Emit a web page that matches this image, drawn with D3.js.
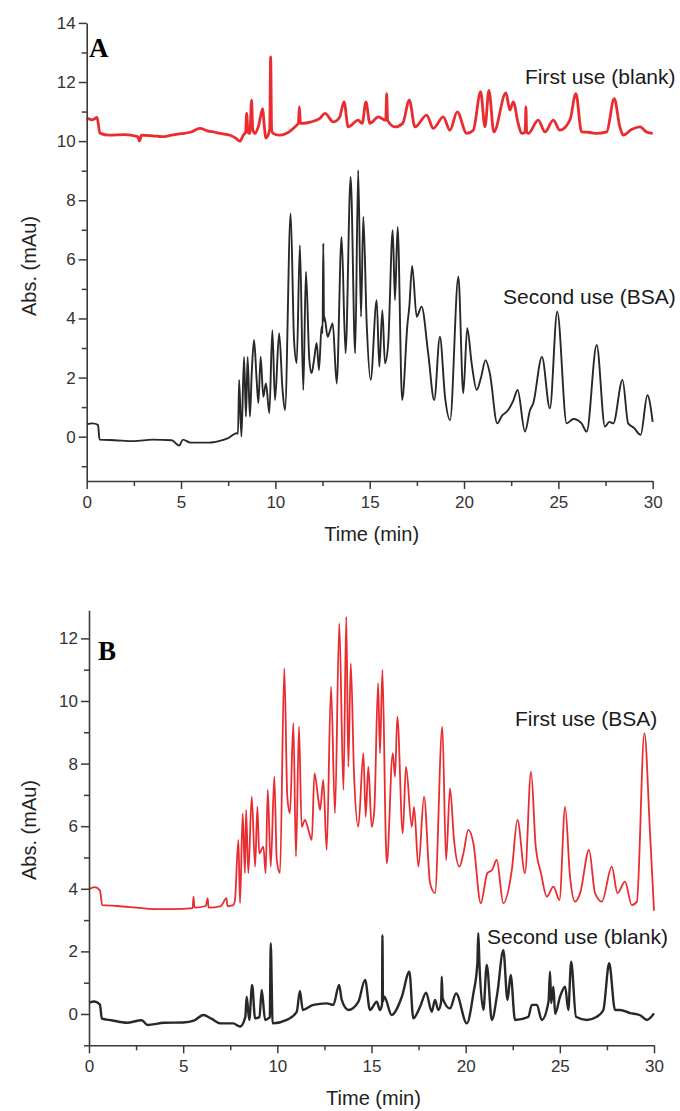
<!DOCTYPE html>
<html><head><meta charset="utf-8">
<script src="https://cdn.jsdelivr.net/npm/d3@7"></script>
<style>body{margin:0;background:#fff}svg{display:block}</style>
</head><body>
<svg id="chart" width="680" height="1111"></svg>
<script>
// ---------- data (time in min, absorbance in mAu) ----------
const xTicksMajor = [0, 5, 10, 15, 20, 25, 30];
const yTicksA = [0, 2, 4, 6, 8, 10, 12, 14];
const yTicksB = [0, 2, 4, 6, 8, 10, 12];
const seriesNames = ["First use (blank)", "Second use (BSA)", "First use (BSA)", "Second use (blank)"];

const firstUseBlankA = [[0,10.78],[0.3,10.72],[0.55,10.8],[0.7,10.27],[1.2,10.2],[2.0,10.22],[2.7,10.15],[2.8,10.0],[2.9,10.2],[3.5,10.18],[4.0,10.15],[4.5,10.2],[5.0,10.25],[5.5,10.3],[6.0,10.43],[6.4,10.35],[6.8,10.3],[7.06,10.26],[7.6,10.2],[7.9,10.1],[8.12,10.0],[8.3,10.2],[8.42,10.3],[8.48,10.94],[8.55,10.3],[8.65,10.26],[8.74,11.39],[8.8,10.4],[8.92,10.26],[9.1,10.5],[9.33,11.1],[9.4,10.6],[9.5,10.1],[9.7,10.4],[9.75,12.85],[9.8,10.4],[9.86,10.27],[10.2,10.2],[10.6,10.27],[11.13,10.54],[11.22,10.6],[11.27,11.16],[11.33,10.6],[11.39,10.6],[11.9,10.65],[12.36,10.77],[12.63,10.94],[13.07,10.65],[13.4,10.8],[13.64,11.33],[13.86,10.48],[14.39,10.71],[14.6,10.6],[14.8,11.33],[15.01,10.6],[15.46,10.82],[15.85,10.7],[15.9,11.61],[15.95,10.7],[16.34,10.48],[16.75,10.6],[17.1,11.39],[17.4,10.48],[18.02,10.88],[18.37,10.43],[18.9,10.82],[19.25,10.37],[19.64,10.99],[20.14,10.26],[20.49,10.37],[20.88,11.67],[21.11,10.48],[21.32,11.72],[21.58,10.31],[22.22,11.63],[22.43,11.05],[22.61,11.33],[22.87,10.6],[23.05,10.26],[23.24,10.3],[23.28,11.16],[23.32,10.3],[23.4,10.26],[23.93,10.71],[24.29,10.31],[24.73,10.71],[25.08,10.37],[25.61,10.71],[25.93,11.61],[26.23,10.31],[26.6,10.3],[27.03,10.26],[27.56,10.31],[27.96,11.44],[28.26,10.48],[28.44,10.2],[28.9,10.4],[29.32,10.48],[29.7,10.3],[30.0,10.26]];

const secondUseBsaA = [[0,0.42],[0.3,0.45],[0.6,0.4],[0.68,-0.1],[1.5,-0.12],[2.5,-0.15],[3.5,-0.1],[4.5,-0.12],[4.9,-0.3],[5.1,-0.1],[5.5,-0.2],[6.5,-0.2],[7.0,-0.15],[7.5,-0.05],[7.95,0.12],[8.02,0.1],[8.08,1.92],[8.2,0.0],[8.34,2.7],[8.44,0.68],[8.53,2.7],[8.65,0.68],[8.75,2.2],[8.87,3.27],[9.0,2.0],[9.1,1.14],[9.22,2.7],[9.36,1.35],[9.5,1.8],[9.68,0.8],[9.84,3.6],[9.98,1.24],[10.2,3.5],[10.38,1.58],[10.51,0.9],[10.81,7.55],[10.99,3.27],[11.13,2.49],[11.3,6.48],[11.48,1.58],[11.62,5.58],[11.8,2.6],[11.92,2.15],[12.05,2.6],[12.19,3.17],[12.31,2.25],[12.45,3.72],[12.5,3.5],[12.54,6.54],[12.58,3.9],[12.6,4.06],[12.77,3.38],[12.9,3.6],[13.04,3.83],[13.25,1.8],[13.51,6.76],[13.72,2.82],[13.99,8.79],[14.23,2.82],[14.39,9.02],[14.54,4.06],[14.66,7.44],[14.84,3.83],[15.05,1.92],[15.37,4.62],[15.51,2.37],[15.67,4.28],[15.81,2.48],[15.98,3.16],[16.22,6.99],[16.34,4.62],[16.48,7.1],[16.72,1.24],[17.0,3.8],[17.1,4.4],[17.25,5.78],[17.49,4.06],[17.75,4.4],[18.1,2.82],[18.42,1.24],[18.72,3.38],[19.0,1.3],[19.26,0.56],[19.7,5.41],[19.96,1.47],[20.17,3.67],[20.4,2.5],[20.67,1.58],[20.9,2.0],[21.14,2.59],[21.37,2.14],[21.76,0.45],[22.0,0.7],[22.34,0.9],[22.6,1.2],[22.84,1.58],[23.23,0.17],[23.5,0.9],[23.67,1.13],[24.13,2.7],[24.55,0.96],[24.94,4.23],[25.44,0.45],[25.8,0.6],[26.23,0.45],[26.5,0.17],[27.03,3.1],[27.47,0.34],[27.7,0.5],[27.91,0.45],[28.4,1.92],[28.7,0.45],[29.0,0.3],[29.36,0.06],[29.72,1.4],[30.0,0.5]];

const firstUseBsaB = [[0,3.99],[0.3,4.05],[0.58,3.95],[0.7,3.48],[1.5,3.45],[2.5,3.4],[3.5,3.35],[4.5,3.35],[5.5,3.38],[5.55,3.75],[5.6,3.4],[6.2,3.45],[6.3,3.7],[6.35,3.4],[7.0,3.45],[7.3,3.7],[7.35,3.45],[7.65,3.48],[7.75,3.64],[7.93,5.56],[8.02,3.54],[8.16,6.41],[8.28,4.5],[8.34,6.52],[8.46,4.5],[8.64,6.94],[8.82,4.71],[8.94,6.62],[9.04,5.13],[9.26,5.35],[9.38,4.5],[9.49,7.16],[9.65,4.71],[9.84,7.58],[9.97,4.92],[10.14,4.5],[10.37,11.04],[10.53,6.94],[10.67,6.41],[10.85,9.29],[10.99,5.03],[11.15,9.18],[11.29,5.98],[11.47,6.2],[11.65,5.88],[11.83,5.56],[11.97,7.69],[12.18,6.84],[12.27,6.52],[12.44,7.48],[12.62,5.24],[12.85,10.46],[13.06,6.41],[13.29,12.48],[13.51,7.16],[13.66,12.69],[13.77,7.9],[13.9,11.2],[14.07,7.69],[14.3,5.98],[14.57,8.33],[14.69,6.3],[14.83,7.9],[15.01,5.98],[15.15,6.52],[15.35,10.57],[15.45,8.33],[15.58,10.99],[15.76,5.56],[15.81,4.81],[16.13,8.33],[16.25,7.58],[16.37,9.5],[16.66,5.77],[16.83,7.9],[17.14,5.98],[17.26,6.62],[17.49,4.71],[17.79,6.94],[18.11,4.18],[18.37,3.86],[18.76,9.18],[18.96,4.92],[19.17,7.21],[19.38,5.56],[19.67,4.71],[19.88,5.13],[20.14,5.88],[20.41,5.45],[20.8,3.54],[21.15,4.5],[21.4,4.6],[21.65,4.92],[22.0,3.54],[22.45,4.6],[22.75,6.2],[23.15,4.5],[23.47,7.74],[23.72,5.35],[24.0,4.5],[24.31,3.75],[24.66,4.07],[24.98,3.64],[25.28,6.62],[25.54,4.39],[25.81,3.59],[26.08,3.86],[26.55,5.24],[26.87,3.86],[27.23,3.59],[27.76,4.71],[28.06,3.86],[28.46,4.23],[28.82,3.48],[29.09,3.59],[29.49,8.97],[29.79,5.77],[30.0,3.3]];

const secondUseBlankB = [[0,0.36],[0.3,0.4],[0.58,0.3],[0.68,-0.15],[1.2,-0.2],[2.0,-0.28],[2.8,-0.2],[3.1,-0.35],[4.0,-0.28],[5.0,-0.27],[5.6,-0.2],[6.07,-0.03],[6.5,-0.15],[7.0,-0.3],[7.66,-0.3],[8.02,-0.4],[8.3,-0.1],[8.37,0.55],[8.51,-0.19],[8.66,0.93],[8.82,-0.14],[9.05,-0.1],[9.17,0.77],[9.35,-0.19],[9.52,-0.14],[9.6,-0.1],[9.65,2.26],[9.75,-0.3],[10.5,-0.19],[11.03,0.07],[11.2,0.74],[11.35,0.13],[11.91,0.29],[12.62,0.34],[12.97,0.29],[13.28,0.93],[13.42,0.45],[13.77,0.13],[14.3,0.39],[14.66,1.09],[14.92,0.13],[15.28,0.39],[15.45,0.13],[15.56,0.3],[15.58,2.52],[15.61,0.4],[15.68,0.55],[16.07,-0.03],[16.61,0.55],[17.01,1.35],[17.22,-0.14],[17.58,0.23],[17.9,0.68],[18.2,0.07],[18.37,0.45],[18.55,0.13],[18.7,0.4],[18.73,1.19],[18.78,0.5],[19.17,0.18],[19.49,0.66],[20.06,-0.3],[20.41,0.66],[20.62,1.6],[20.67,2.58],[20.73,1.62],[20.94,0.13],[21.12,1.57],[21.39,-0.19],[21.68,0.66],[22.0,2.04],[22.22,0.45],[22.39,1.25],[22.62,-0.19],[23.33,-0.09],[23.51,0.29],[23.78,0.29],[24.04,-0.19],[24.4,0.4],[24.48,1.35],[24.54,0.35],[24.66,0.87],[24.75,0.0],[25.01,0.55],[25.28,0.87],[25.45,0.13],[25.6,1.67],[25.86,-0.09],[26.43,-0.19],[26.96,-0.09],[27.31,0.13],[27.62,1.62],[27.93,0.13],[28.2,0.13],[28.73,0.03],[29.26,-0.04],[29.62,-0.19],[30.0,0.02]];

// ---------- drawing ----------
const svg = d3.select("#chart");
const FONT = "'Liberation Sans', Arial, Helvetica, sans-serif";
const AXIS = "#3a3a3a";
const RED = "#e8141a";
const BLACK = "#111";

function panel(cfg) {
  const x = d3.scaleLinear().domain([0, 30]).range([cfg.x0, cfg.x1]);
  const y = d3.scaleLinear().domain(cfg.yDomain).range([cfg.yBottom, cfg.yTop]);
  const g = svg.append("g");

  // traces
  const line = d3.line().x(d => x(d[0])).y(d => y(d[1])).curve(d3.curveMonotoneX);
  cfg.series.forEach(s => {
    g.append("path").datum(s.data).attr("d", line)
      .attr("fill", "none").attr("stroke", s.color)
      .attr("stroke-width", s.w).attr("stroke-linejoin", "round").attr("opacity", 0.9);
  });

  // minor ticks
  const xMinor = d3.range(2.5, 30, 5);
  const yMinor = d3.range(Math.ceil(cfg.yDomain[0]), cfg.yDomain[1], 1).filter(v => Math.abs(v % 2) === 1);
  const xMin = g.append("g").attr("transform", `translate(0,${cfg.yBottom})`)
    .call(d3.axisBottom(x).tickValues(xMinor).tickSize(5).tickFormat(""));
  const yMin = g.append("g").attr("transform", `translate(${cfg.x0},0)`)
    .call(d3.axisLeft(y).tickValues(yMinor).tickSize(5).tickFormat(""));

  // major axes
  const xAx = g.append("g").attr("transform", `translate(0,${cfg.yBottom})`)
    .call(d3.axisBottom(x).tickValues(xTicksMajor).tickSize(8).tickPadding(7).tickSizeOuter(0).tickFormat(d3.format("d")));
  const yAx = g.append("g").attr("transform", `translate(${cfg.x0},0)`)
    .call(d3.axisLeft(y).tickValues(cfg.yTicks).tickSize(8).tickPadding(3).tickSizeOuter(0).tickFormat(d3.format("d")));

  [xMin, yMin, xAx, yAx].forEach(a => {
    a.select(".domain").attr("stroke", AXIS).attr("stroke-width", 1.6);
    a.selectAll(".tick line").attr("stroke", AXIS).attr("stroke-width", 1.5);
    a.selectAll("text").attr("fill", "#333").style("font-family", FONT).style("font-size", "17px");
  });
  xMin.select(".domain").remove();
  yMin.select(".domain").remove();

  // axis titles
  g.append("text").attr("x", (cfg.x0 + cfg.x1) / 2 + 2).attr("y", cfg.yBottom + 60)
    .attr("text-anchor", "middle").style("font-family", FONT).style("font-size", "20px").attr("fill", "#222")
    .text("Time (min)");
  g.append("text").attr("transform", `translate(36,${cfg.yLabelCenter}) rotate(-90)`)
    .attr("text-anchor", "middle").style("font-family", FONT).style("font-size", "20px").attr("fill", "#222")
    .text("Abs. (mAu)");

  // panel letter
  g.append("text").attr("x", cfg.letterX).attr("y", cfg.letterY)
    .style("font-family", "'Liberation Serif', 'Times New Roman', serif").style("font-weight", "bold")
    .style("font-size", "27px").attr("fill", "#000").text(cfg.letter);

  // series labels
  cfg.series.forEach(s => {
    g.append("text").attr("x", s.lx).attr("y", s.ly)
      .style("font-family", FONT).style("font-size", "21px").attr("fill", "#1a1a1a").text(s.name);
  });
}

panel({
  x0: 86.7, x1: 652.7, yDomain: [-1.5, 14], yBottom: 481, yTop: 22.9, yTicks: yTicksA,
  yLabelCenter: 266, letter: "A", letterX: 89, letterY: 57,
  series: [
    { data: firstUseBlankA, color: RED, w: 2.8, name: seriesNames[0], lx: 525, ly: 84 },
    { data: secondUseBsaA, color: BLACK, w: 1.9, name: seriesNames[1], lx: 503, ly: 304 }
  ]
});

panel({
  x0: 89, x1: 654, yDomain: [-1, 12.9], yBottom: 1045.3, yTop: 610.2, yTicks: yTicksB,
  yLabelCenter: 830, letter: "B", letterX: 98, letterY: 660,
  series: [
    { data: firstUseBsaB, color: RED, w: 1.8, name: seriesNames[2], lx: 515, ly: 726 },
    { data: secondUseBlankB, color: BLACK, w: 2.4, name: seriesNames[3], lx: 487, ly: 944 }
  ]
});
</script>
</body></html>
